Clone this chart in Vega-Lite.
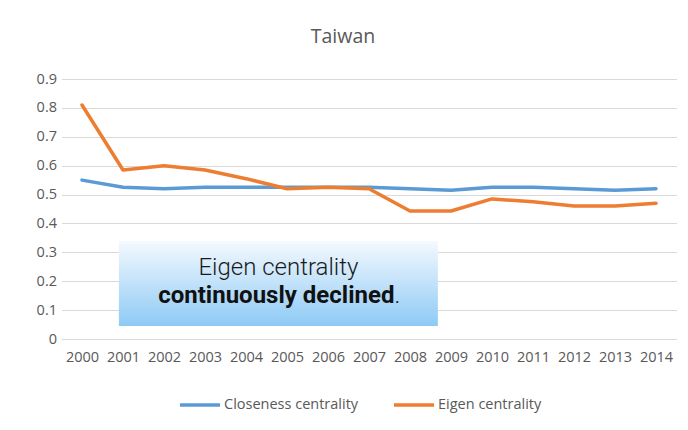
{
  "$schema": "https://vega.github.io/schema/vega-lite/v6.json",
  "autosize": {"type": "none"},
  "width": 615,
  "height": 260,
  "padding": {"left": 61.5, "top": 79, "right": 11.5, "bottom": 91},
  "background": "white",
  "title": {
    "text": "Taiwan",
    "font": "Open Sans",
    "fontSize": 19.5,
    "fontWeight": "normal",
    "color": "#595959",
    "anchor": "middle",
    "frame": "group",
    "dx": -26,
    "offset": 24
  },
  "config": {
    "view": {"stroke": null},
    "axis": {
      "labelFont": "Open Sans",
      "labelFontSize": 14.5,
      "labelColor": "#595959",
      "ticks": false,
      "title": null
    }
  },
  "datasets": {
    "series": [
      {"year": 2000, "measure": "Closeness centrality", "value": 0.55},
      {"year": 2001, "measure": "Closeness centrality", "value": 0.525},
      {"year": 2002, "measure": "Closeness centrality", "value": 0.52},
      {"year": 2003, "measure": "Closeness centrality", "value": 0.525},
      {"year": 2004, "measure": "Closeness centrality", "value": 0.525},
      {"year": 2005, "measure": "Closeness centrality", "value": 0.525},
      {"year": 2006, "measure": "Closeness centrality", "value": 0.525},
      {"year": 2007, "measure": "Closeness centrality", "value": 0.525},
      {"year": 2008, "measure": "Closeness centrality", "value": 0.52},
      {"year": 2009, "measure": "Closeness centrality", "value": 0.515},
      {"year": 2010, "measure": "Closeness centrality", "value": 0.525},
      {"year": 2011, "measure": "Closeness centrality", "value": 0.525},
      {"year": 2012, "measure": "Closeness centrality", "value": 0.52},
      {"year": 2013, "measure": "Closeness centrality", "value": 0.515},
      {"year": 2014, "measure": "Closeness centrality", "value": 0.52},
      {"year": 2000, "measure": "Eigen centrality", "value": 0.81},
      {"year": 2001, "measure": "Eigen centrality", "value": 0.585},
      {"year": 2002, "measure": "Eigen centrality", "value": 0.6},
      {"year": 2003, "measure": "Eigen centrality", "value": 0.585},
      {"year": 2004, "measure": "Eigen centrality", "value": 0.555},
      {"year": 2005, "measure": "Eigen centrality", "value": 0.52},
      {"year": 2006, "measure": "Eigen centrality", "value": 0.525},
      {"year": 2007, "measure": "Eigen centrality", "value": 0.52},
      {"year": 2008, "measure": "Eigen centrality", "value": 0.443},
      {"year": 2009, "measure": "Eigen centrality", "value": 0.443},
      {"year": 2010, "measure": "Eigen centrality", "value": 0.485},
      {"year": 2011, "measure": "Eigen centrality", "value": 0.475},
      {"year": 2012, "measure": "Eigen centrality", "value": 0.46},
      {"year": 2013, "measure": "Eigen centrality", "value": 0.46},
      {"year": 2014, "measure": "Eigen centrality", "value": 0.47}
    ],
    "callout": [
      {"year": 2000.9, "year_end": 2008.68, "value": 0.045, "value_end": 0.339}
    ],
    "callout_text": [
      {"year": 2004.79, "value": 0.246, "label": "Eigen centrality", "part": "plain"},
      {"year": 2007.62, "value": 0.148, "label": "continuously declined", "part": "bold"},
      {"year": 2007.62, "value": 0.148, "label": ".", "part": "tail"}
    ]
  },
  "encoding": {
    "x": {
      "field": "year",
      "type": "quantitative",
      "scale": {"domain": [1999.5, 2014.5], "nice": false, "zero": false},
      "axis": {
        "values": [2000, 2001, 2002, 2003, 2004, 2005, 2006, 2007, 2008, 2009, 2010, 2011, 2012, 2013, 2014],
        "format": "d",
        "grid": false,
        "domain": true,
        "domainColor": "#d9d9d9",
        "labelPadding": 11,
        "labelFlush": false,
        "labelOverlap": false
      }
    },
    "y": {
      "field": "value",
      "type": "quantitative",
      "scale": {"domain": [0, 0.9], "nice": false},
      "axis": {
        "values": [0, 0.1, 0.2, 0.3, 0.4, 0.5, 0.6, 0.7, 0.8, 0.9],
        "labelExpr": "datum.value == 0 ? '0' : format(datum.value, '.1f')",
        "domain": false,
        "grid": true,
        "gridColor": "#d9d9d9",
        "labelPadding": 5,
        "labelOverlap": false
      }
    }
  },
  "layer": [
    {
      "data": {"name": "series"},
      "mark": {"type": "line", "strokeWidth": 3.5, "strokeJoin": "round", "strokeCap": "round"},
      "encoding": {
        "color": {
          "field": "measure",
          "type": "nominal",
          "scale": {"domain": ["Closeness centrality", "Eigen centrality"], "range": ["#5b9bd5", "#ed7d31"]},
          "legend": {
            "orient": "none",
            "legendX": 116.5,
            "legendY": 304,
            "direction": "horizontal",
            "title": null,
            "symbolType": "stroke",
            "symbolSize": 1600,
            "symbolStrokeWidth": 3.5,
            "labelFont": "Open Sans",
            "labelFontSize": 14.5,
            "labelColor": "#595959",
            "columnPadding": 28,
            "labelOffset": 2
          }
        }
      }
    },
    {
      "data": {"name": "callout"},
      "mark": {
        "type": "rect",
        "color": {
          "gradient": "linear",
          "x1": 0, "y1": 0, "x2": 0, "y2": 1,
          "stops": [
            {"offset": 0, "color": "#f4f9fe"},
            {"offset": 1, "color": "#8ecaf5"}
          ]
        }
      },
      "encoding": {
        "x2": {"field": "year_end"},
        "y2": {"field": "value_end"}
      }
    },
    {
      "data": {"name": "callout_text"},
      "transform": [{"filter": "datum.part == 'plain'"}],
      "mark": {"type": "text", "font": "Roboto", "fontSize": 24, "fontWeight": 300, "color": "#1a1a1a", "align": "center", "baseline": "middle"},
      "encoding": {"text": {"field": "label"}}
    },
    {
      "data": {"name": "callout_text"},
      "transform": [{"filter": "datum.part == 'bold'"}],
      "mark": {"type": "text", "font": "Roboto", "fontSize": 24, "fontWeight": "bold", "color": "#111111", "align": "right", "baseline": "middle"},
      "encoding": {"text": {"field": "label"}}
    },
    {
      "data": {"name": "callout_text"},
      "transform": [{"filter": "datum.part == 'tail'"}],
      "mark": {"type": "text", "font": "Roboto", "fontSize": 24, "fontWeight": 300, "color": "#1a1a1a", "align": "left", "baseline": "middle"},
      "encoding": {"text": {"field": "label"}}
    }
  ]
}
